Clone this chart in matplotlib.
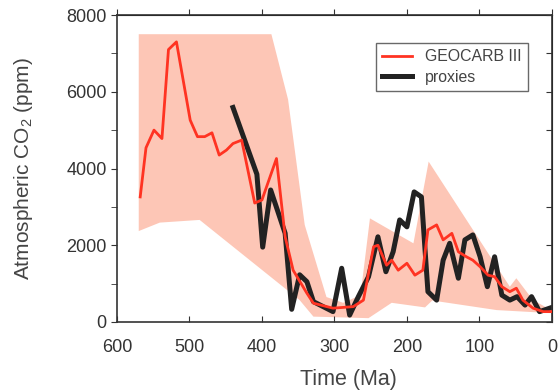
import matplotlib
matplotlib.use("Agg")
import matplotlib.pyplot as plt

plt.rcParams['font.family'] = ['Liberation Sans', 'DejaVu Sans']
plt.rcParams['mathtext.fontset'] = 'custom'
plt.rcParams['mathtext.rm'] = 'Liberation Sans'
plt.rcParams['mathtext.it'] = 'Liberation Sans:italic'

# GEOCARB III model (Ma, ppm)
geocarb_age = [568, 560, 549, 538, 529, 518, 499, 489, 479, 469, 459, 449, 440, 428,
               410, 400, 380, 368, 357, 338, 329, 302, 274, 260, 246, 240, 228, 221,
               212, 200, 189, 178, 171, 159, 150, 138, 129, 118, 109, 99, 88, 79,
               69, 58, 49, 40, 26, 12, 0]
geocarb_co2 = [3260, 4540, 5000, 4780, 7100, 7300, 5260, 4830, 4830, 4930, 4350, 4480, 4650, 4740,
               3100, 3180, 4260, 2220, 1350, 750, 490, 360, 400, 570, 1960, 2000, 1480, 1610,
               1350, 1530, 1220, 1350, 2400, 2530, 2140, 2310, 1830, 1700, 1610, 1440, 1220, 1180,
               920, 790, 880, 570, 360, 270, 270]

# proxy record (Ma, ppm)
proxy_age = [440, 407, 399, 388, 368, 359, 348, 338, 329, 302, 290, 279, 267, 253,
             240, 229, 219, 210, 200, 190, 180, 171, 159, 150, 141, 129, 120, 109,
             99, 89, 79, 69, 58, 48, 37, 28, 17, 3, 0]
proxy_co2 = [5590, 3850, 1950, 3440, 2310, 330, 1230, 1050, 530, 270, 1400, 180, 660, 1180,
             2220, 1310, 1830, 2660, 2480, 3390, 3260, 790, 570, 1610, 2050, 1140, 2140, 2270,
             1700, 920, 1700, 700, 570, 660, 440, 660, 270, 360, 380]

# uncertainty envelope
upper_age = [570, 387, 364, 341, 311, 288, 264, 251, 191, 170, 58, 49, 26, 0]
upper_co2 = [7500, 7500, 5800, 2530, 650, 500, 700, 2700, 2050, 4180, 920, 1140, 570, 300]
lower_age = [570, 541, 486, 348, 329, 253, 221, 175, 165, 76, 0]
lower_co2 = [2370, 2590, 2660, 570, 140, 100, 500, 380, 560, 310, 230]

fig = plt.figure(figsize=(5.58, 3.91), dpi=100)
ax = fig.add_axes([0.2097, 0.1765, 0.7793, 0.7851])

ax.fill(upper_age + lower_age[::-1], upper_co2 + lower_co2[::-1],
        color='#fdc6b6', lw=0, zorder=1)
ax.plot(proxy_age, proxy_co2, color='#222222', lw=3.6, label='proxies', zorder=2)
ax.plot(geocarb_age, geocarb_co2, color='#ff3322', lw=2, label='GEOCARB III', zorder=3)

ax.set_xlim(600, 0)
ax.set_ylim(0, 8000)
ax.set_xticks(range(600, -1, -100))
ax.set_yticks(range(0, 8001, 2000))
ax.set_yticks(range(1000, 8000, 2000), minor=True)

dark = '#333333'
for s in ax.spines.values():
    s.set_color(dark)
    s.set_linewidth(1.2)
ax.tick_params(axis='x', direction='in', length=4, color=dark, labelcolor='#333333',
               labelsize=13, pad=12)
ax.tick_params(axis='y', which='both', direction='out', length=4, color=dark,
               labelcolor='#333333', labelsize=13)

top = ax.secondary_xaxis('top')
top.set_xticks(range(600, -1, -100))
top.tick_params(direction='out', length=4, color=dark, labeltop=False)
right = ax.secondary_yaxis('right')
right.set_yticks(range(0, 8001, 1000))
right.tick_params(direction='in', length=4, color=dark, labelright=False)

ax.set_xlabel('Time (Ma)', fontsize=15.5, color='#444444')
ax.xaxis.set_label_coords(0.533, -0.152)
ax.set_ylabel('Atmospheric CO$_2$ (ppm)', fontsize=15, color='#444444')
ax.yaxis.set_label_coords(-0.189, 0.5)

h, l = ax.get_legend_handles_labels()
leg = ax.legend(h[::-1], l[::-1], loc='upper right', bbox_to_anchor=(0.945, 0.909),
                fontsize=11.4, frameon=True, fancybox=False, handlelength=1.9,
                handletextpad=0.8, labelspacing=0.35, borderpad=0.4,
                labelcolor='#444444', borderaxespad=0)
leg.get_frame().set_edgecolor('#444444')
leg.get_frame().set_linewidth(1)

fig.savefig('out.png', dpi=100)
